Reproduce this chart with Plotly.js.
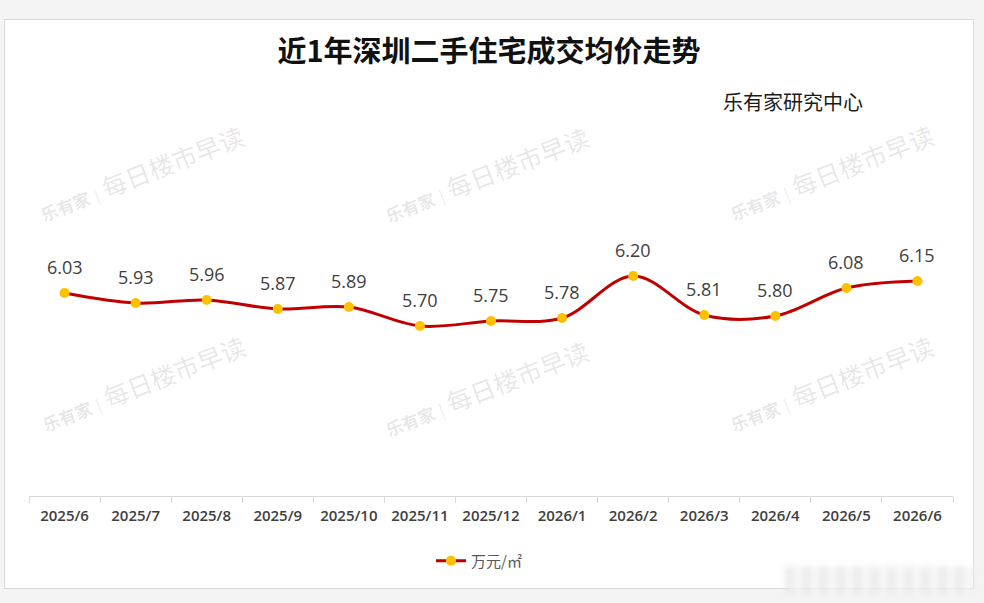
<!DOCTYPE html>
<html>
<head>
<meta charset="utf-8">
<script src="https://cdn.plot.ly/plotly-3.0.1.min.js"></script>
<style>
  html, body { margin: 0; padding: 0; background: #f4f4f4; width: 984px; height: 603px; overflow: hidden; }
  #panel { position: absolute; left: 4px; top: 19px; width: 968px; height: 568px; background: #fff; border: 1px solid #d9d9d9; }
  #chart { position: absolute; left: 0; top: 0; width: 968px; height: 568px; }
  #stamp { position: absolute; left: 785px; top: 566px; width: 190px; height: 28px; filter: blur(3px);
           background: repeating-linear-gradient(90deg, #e6e6e6 0 9px, #f6f6f6 9px 17px); opacity: 0.75; }
</style>
</head>
<body>
<div id="panel"><div id="chart"></div></div>
<div id="stamp"></div>
<script>
// Monthly average transaction price of second-hand homes in Shenzhen (万元/㎡)
const months = ['2025/6', '2025/7', '2025/8', '2025/9', '2025/10', '2025/11', '2025/12',
                '2026/1', '2026/2', '2026/3', '2026/4', '2026/5', '2026/6'];
const avgPrice = [6.03, 5.93, 5.96, 5.87, 5.89, 5.70, 5.75, 5.78, 6.20, 5.81, 5.80, 6.08, 6.15];
const seriesName = '万元/㎡';
const chartTitle = '近1年深圳二手住宅成交均价走势';
const sourceText = '乐有家研究中心';
const markText = '<span style="font-size:17px"><b>乐有家</b></span> <span style="font-size:16px">|</span> 每日楼市早读';

const W = 968, H = 568;
const M = { l: 24, r: 20, t: 176, b: 91 };
const PW = W - M.l - M.r, PH = H - M.t - M.b;
// convert panel pixel positions to paper fractions
const px = x => (x - M.l) / PW;
const py = y => (H - M.b - y) / PH;

const labelAnn = months.map((m, i) => ({
  x: m, y: avgPrice[i], xref: 'x', yref: 'y',
  text: avgPrice[i].toFixed(2), showarrow: false,
  yanchor: 'middle', yshift: 26,
  font: { family: 'Open Sans, DejaVu Sans, sans-serif', size: 18, color: '#404040' }
}));

const markCenters = [[136, 153], [481, 154], [826, 152], [138, 364], [481, 369], [826, 364]];
const markAnn = markCenters.map(c => ({
  x: px(c[0]), y: py(c[1]), xref: 'paper', yref: 'paper',
  xanchor: 'center', yanchor: 'middle',
  text: markText, showarrow: false, textangle: -21,
  font: { family: 'Noto Sans CJK SC, sans-serif', size: 25, color: 'rgba(0,0,0,0.11)' }
}));

const trace = {
  type: 'scatter', mode: 'lines+markers', name: seriesName,
  x: months, y: avgPrice,
  line: { color: '#c00000', width: 3, shape: 'spline', smoothing: 1 },
  marker: { color: '#ffc000', size: 10 },
  hoverinfo: 'skip'
};

const layout = {
  width: W, height: H,
  margin: M,
  paper_bgcolor: 'rgba(0,0,0,0)', plot_bgcolor: 'rgba(0,0,0,0)',
  title: {
    text: '<b>' + chartTitle + '</b>', xref: 'container', yref: 'container',
    x: 0.5, y: 1 - 32 / H, xanchor: 'center', yanchor: 'middle',
    font: { family: 'Noto Sans CJK SC, sans-serif', size: 29, color: '#111' }
  },
  xaxis: {
    type: 'category', range: [-0.5, 12.5], fixedrange: true,
    showline: true, linecolor: '#d9d9d9', linewidth: 1,
    ticks: 'outside', tickson: 'boundaries', ticklen: 6, tickcolor: '#d9d9d9',
    showgrid: false, zeroline: false, ticklabelstandoff: 6,
    tickfont: { family: 'Open Sans, sans-serif', size: 15, weight: 600, color: '#404040' }
  },
  yaxis: { range: [4, 7], visible: false, fixedrange: true, showgrid: false, zeroline: false },
  showlegend: true,
  legend: {
    orientation: 'h', x: px(474), xanchor: 'center', y: py(541), yanchor: 'middle',
    font: { family: 'Noto Sans CJK SC, sans-serif', size: 15, color: '#595959' },
    bgcolor: 'rgba(0,0,0,0)'
  },
  annotations: markAnn.concat(labelAnn, [{
    x: px(788), y: py(81), xref: 'paper', yref: 'paper', text: sourceText, showarrow: false,
    xanchor: 'center', yanchor: 'middle',
    font: { family: 'Noto Sans CJK SC, sans-serif', size: 20, color: '#1a1a1a' }
  }])
};

Plotly.newPlot('chart', [trace], layout, { displayModeBar: false, staticPlot: true });
</script>
</body>
</html>
